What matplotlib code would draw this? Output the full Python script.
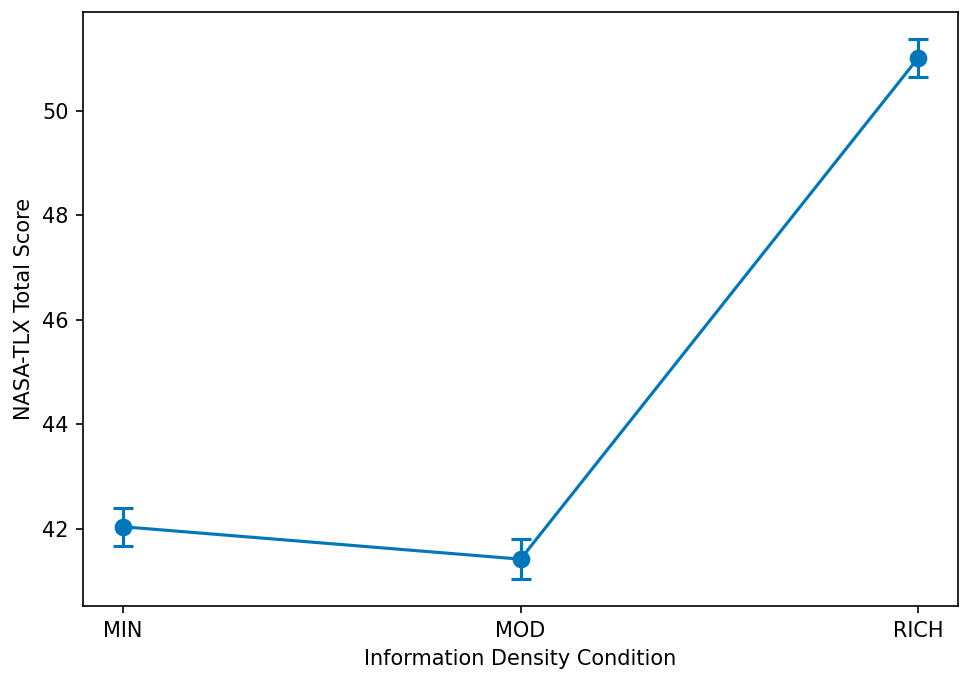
import matplotlib
matplotlib.use("Agg")
import matplotlib.pyplot as plt

condicoes = ["MIN", "MOD", "RICH"]
medias = [42.04, 41.42, 51.01]
erros = [0.36, 0.38, 0.36]

cor = "#0077BB"

fig = plt.figure(figsize=(6.46, 4.547), dpi=150)
ax = fig.add_axes([0.0857, 0.1114, 0.903, 0.871])

x = list(range(len(condicoes)))
ax.errorbar(x, medias, yerr=erros, color=cor, marker="o", markersize=7.5,
            linewidth=1.5, capsize=5, elinewidth=1.5, capthick=1.5)

ax.set_xticks(x)
ax.set_xticklabels(condicoes)
ax.set_xlabel("Information Density Condition")
ax.set_ylabel("NASA-TLX Total Score")

fig.savefig("out.png", dpi=150)
